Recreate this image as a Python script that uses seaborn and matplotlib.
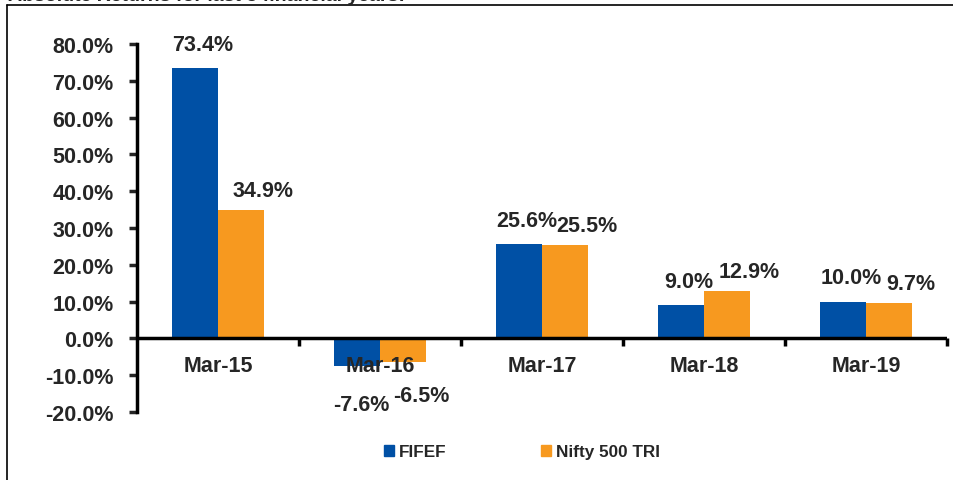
import seaborn as sns
import matplotlib.pyplot as plt
import pandas as pd
from matplotlib.lines import Line2D
from matplotlib.patches import Patch
from matplotlib.ticker import FuncFormatter

years = ["Mar-15", "Mar-16", "Mar-17", "Mar-18", "Mar-19"]
fifef = [73.4, -7.6, 25.6, 9.0, 10.0]
nifty = [34.9, -6.5, 25.5, 12.9, 9.7]
series = ["FIFEF", "Nifty 500 TRI"]
colors = ["#0050A5", "#F7991F"]

data = pd.DataFrame({
    "Year": years * 2,
    "Return": fifef + nifty,
    "Series": [series[0]] * 5 + [series[1]] * 5,
})

sns.set_style("white")
plt.rcParams['font.family'] = ['Liberation Sans', 'DejaVu Sans']
fs = 15.5

fig = plt.figure(figsize=(9.54, 4.81), dpi=100)
ax = fig.add_axes([137 / 954, 1 - 413 / 481, 810 / 954, 368 / 481])
sns.barplot(data=data, x="Year", y="Return", hue="Series", palette=colors,
            width=0.57, saturation=1, linewidth=0, ax=ax, legend=False)

ax.set_ylim(-20, 80)
ax.set_xlim(-0.5, 4.5)
ax.set_yticks(range(-20, 81, 10))
ax.yaxis.set_major_formatter(FuncFormatter(lambda v, p: f"{v:.1f}%"))
for s in ["top", "right", "bottom"]:
    ax.spines[s].set_visible(False)
ax.spines["left"].set_linewidth(2.5)
ax.spines["left"].set_color("black")
ax.axhline(0, color="black", lw=2.5, zorder=5)
ax.tick_params(axis="y", left=True, length=6, width=2.5, labelsize=fs, pad=11)
for lab in ax.get_yticklabels():
    lab.set_fontweight("bold")
ax.set_xticks([])
ax.set_xlabel("")
ax.set_ylabel("")

# x labels sit just below the zero line, boundary ticks hang from it
for i, y in enumerate(years):
    ax.annotate(y, (i, 0), xytext=(0, -27), textcoords="offset pixels",
                ha="center", va="center", fontsize=fs, fontweight="bold", zorder=6)
for b in [0.5, 1.5, 2.5, 3.5, 4.5]:
    ax.plot([b, b], [0, -2], color="black", lw=2.5, clip_on=False, zorder=5,
            solid_capstyle="butt")

# value labels
offs = {0: (8, 24), 1: (22, 19)}
for k, (cont, vals) in enumerate(zip(ax.containers, [fifef, nifty])):
    dx, dy = offs[k]
    for bar, v in zip(cont, vals):
        x = bar.get_x() + bar.get_width() / 2
        yoff = dy if v >= 0 else -(dy + 14)
        ax.annotate(f"{v:.1f}%", (x, v), xytext=(dx - (4 if v < 0 else 0), yoff),
                    textcoords="offset pixels", ha="center", va="center",
                    fontsize=fs, fontweight="bold", zorder=6)

handles = [Patch(color=c) for c in colors]
fig.legend(handles, series, loc="center", bbox_to_anchor=(522 / 954, 1 - 453 / 481),
           ncol=2, frameon=False, handlelength=0.6, handleheight=0.6, handletextpad=0.3,
           columnspacing=5.5, prop={"weight": "bold", "size": 12.3})

# frame lines and cropped title
fig.add_artist(Line2D([7 / 954, 7 / 954], [0, 1 - 6 / 481], color="black", lw=1.2))
fig.add_artist(Line2D([7 / 954, 1], [1 - 6 / 481, 1 - 6 / 481], color="black", lw=1.2))
fig.text(8 / 954, 1 - 1 / 481, "Absolute Returns for last 5 financial years:",
         fontsize=14, fontweight="bold", va="baseline", ha="left")

fig.savefig("out.png", dpi=100)
